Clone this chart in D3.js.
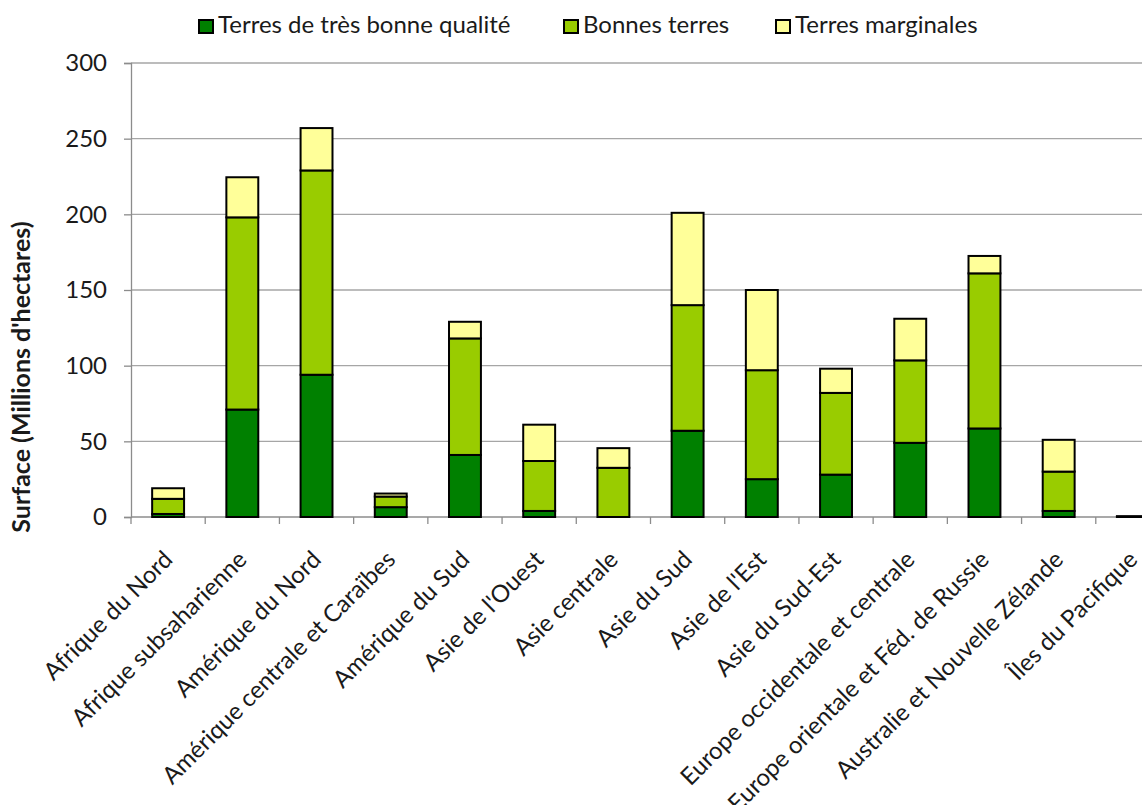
<!DOCTYPE html>
<html>
<head>
  <meta charset="utf-8">
  <title>Surface par qualité de terres</title>
  <script src="https://d3js.org/d3.v7.min.js"></script>
  <style>
    body { margin: 0; background: #fff; }
    text { font-family: Lato, "Open Sans", sans-serif; fill: #1a1a1a; }
  </style>
</head>
<body>
  <svg width="1142" height="805"></svg>

  <script>
    // data (millions of hectares)
    var regions = ["Afrique du Nord", "Afrique subsaharienne", "Amérique du Nord",
      "Amérique centrale et Caraïbes", "Amérique du Sud", "Asie de l'Ouest",
      "Asie centrale", "Asie du Sud", "Asie de l'Est", "Asie du Sud-Est",
      "Europe occidentale et centrale", "Europe orientale et Féd. de Russie",
      "Australie et Nouvelle Zélande", "Îles du Pacifique"];
    var tresBonne  = [2, 71, 94, 6.5, 41, 4, 0, 57, 25, 28, 49, 58.5, 4, 0.3];
    var bonnes     = [10, 127, 135, 7, 77, 33, 32.5, 83, 72, 54, 54.5, 102.5, 26, 0.2];
    var marginales = [7, 26.5, 28, 2, 11, 24, 13, 61, 53, 16, 27.5, 11.5, 21, 0];
    var seriesNames = ["Terres de très bonne qualité", "Bonnes terres", "Terres marginales"];
    var yTicks = [0, 50, 100, 150, 200, 250, 300];

    var colors = ["#008000", "#99cc00", "#ffff99"];

    var svg = d3.select("svg"),
        margin = {top: 63, left: 131},
        height = 454,
        width = 1039;   // the plot runs past the right edge of the picture

    var rows = regions.map(function(r, i) {
      return {region: r, s0: tresBonne[i], s1: bonnes[i], s2: marginales[i]};
    });
    var stack = d3.stack().keys(["s0", "s1", "s2"])(rows);

    var x = d3.scaleBand().domain(regions).range([0, width]).padding(0);
    var y = d3.scaleLinear().domain([0, 300]).range([height, 0]);
    var barW = x.bandwidth() * 0.43;

    var g = svg.append("g")
        .attr("transform", "translate(" + margin.left + "," + margin.top + ")");

    // gridlines
    g.append("g").selectAll("line")
      .data(yTicks.slice(1))
      .enter().append("line")
        .attr("x1", 0).attr("x2", width)
        .attr("y1", function(d) { return y(d); })
        .attr("y2", function(d) { return y(d); })
        .attr("stroke", "#a6a6a6").attr("stroke-width", 1.3);

    // y axis
    var yAxis = g.append("g")
        .call(d3.axisLeft(y).tickValues(yTicks).tickSize(7).tickPadding(17));
    yAxis.select(".domain").attr("stroke", "#8c8c8c").attr("stroke-width", 1.3);
    yAxis.selectAll(".tick line").attr("stroke", "#8c8c8c").attr("stroke-width", 1.3);
    yAxis.selectAll("text").style("font-size", "24px").attr("fill", "#1a1a1a")
        .style("font-family", "Lato, sans-serif");

    // x axis line and boundary ticks
    g.append("line")
      .attr("x1", 0).attr("x2", width)
      .attr("y1", height).attr("y2", height)
      .attr("stroke", "#8c8c8c").attr("stroke-width", 1.3);
    g.append("g").selectAll("line")
      .data(regions)
      .enter().append("line")
        .attr("x1", function(d) { return x(d); })
        .attr("x2", function(d) { return x(d); })
        .attr("y1", height).attr("y2", height + 7)
        .attr("stroke", "#8c8c8c").attr("stroke-width", 1.3);

    // stacked bars
    g.selectAll(".serie")
      .data(stack)
      .enter().append("g")
        .attr("class", "serie")
        .attr("fill", function(d, i) { return colors[i]; })
      .selectAll("rect")
      .data(function(d) { return d; })
      .enter().append("rect")
        .attr("x", function(d) { return x(d.data.region) + (x.bandwidth() - barW) / 2; })
        .attr("y", function(d) { return y(d[1]); })
        .attr("width", barW)
        .attr("height", function(d) { return y(d[0]) - y(d[1]); })
        .attr("stroke", "#000")
        .attr("stroke-width", 2);

    // category labels
    g.append("g").selectAll("text")
      .data(regions)
      .enter().append("text")
        .attr("text-anchor", "end")
        .attr("transform", function(d) {
          return "translate(" + (x(d) + x.bandwidth() / 2 + 6) + "," + (height + 44) + ") rotate(-45)";
        })
        .style("font-size", "24px")
        .text(function(d) { return d; });

    // y axis title
    svg.append("text")
      .attr("transform", "translate(30,377) rotate(-90)")
      .attr("text-anchor", "middle")
      .style("font-size", "25px")
      .style("font-weight", "bold")
      .text("Surface (Millions d'hectares)");

    // legend
    var legendX = [199, 564, 776];
    var legend = svg.append("g").selectAll("g")
      .data(seriesNames)
      .enter().append("g")
        .attr("transform", function(d, i) { return "translate(" + legendX[i] + ",20)"; });
    legend.append("rect")
      .attr("width", 14).attr("height", 13)
      .attr("fill", function(d, i) { return colors[i]; })
      .attr("stroke", "#000").attr("stroke-width", 2);
    legend.append("text")
      .attr("x", 19).attr("y", 13)
      .style("font-size", "24px")
      .text(function(d) { return d; });
  </script>
</body>
</html>
